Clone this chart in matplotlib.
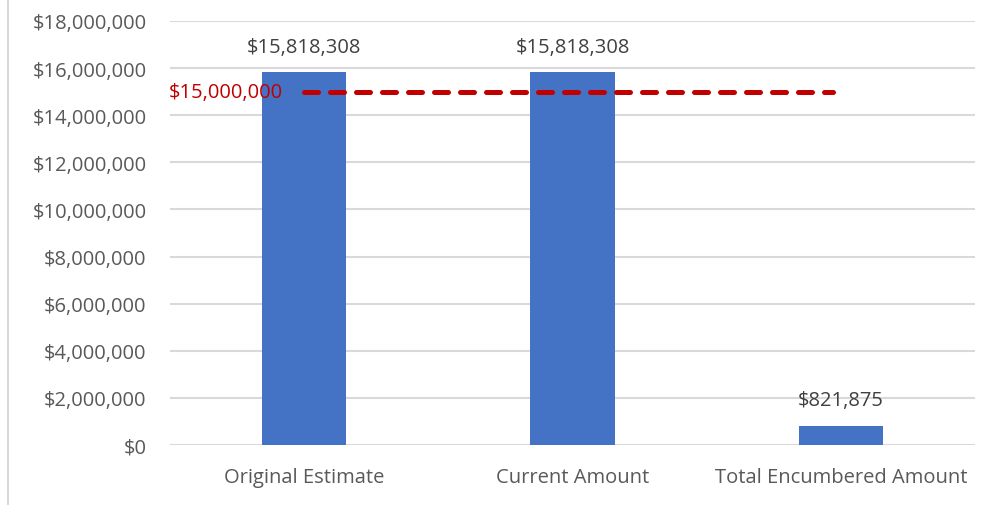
import matplotlib
matplotlib.use("Agg")
import matplotlib.pyplot as plt
from matplotlib.lines import Line2D
from matplotlib.ticker import FuncFormatter

categories = ["Original Estimate", "Current Amount", "Total Encumbered Amount"]
amounts = [15818308, 15818308, 821875]
threshold = 15000000
threshold_span = [0, 1.97]

plt.rcParams['font.family'] = ['Open Sans', 'DejaVu Sans']

txt = '#595959'
fs = 14.5
fig = plt.figure(figsize=(9.95, 5.06), dpi=100)
ax = fig.add_axes([170 / 995, 1 - 446 / 506, 805 / 995, 424 / 506])

x = list(range(len(categories)))
bars = ax.bar(x, amounts, width=0.315, color='#4472C4', zorder=3)
for xi, v in zip(x, amounts):
    ax.annotate(f"${v:,.0f}", (xi, v), xytext=(0, 11), textcoords='offset points',
                ha='center', va='bottom', fontsize=fs, color='#404040')

ax.plot(threshold_span, [threshold, threshold], color='#C00000', lw=3.6,
        dashes=(2.8, 2.4), dash_capstyle='round', zorder=4)
ax.annotate(f"${threshold:,.0f}", (threshold_span[0], threshold), xytext=(-15, 0),
            textcoords='offset points', ha='right', va='center',
            fontsize=fs, color='#C00000', zorder=5)

ax.set_xlim(-0.5, 2.5)
ax.set_ylim(0, 18000000)
ax.set_yticks(range(0, 18000001, 2000000))
ax.yaxis.set_major_formatter(FuncFormatter(lambda v, p: f"${v:,.0f}"))
ax.set_xticks(x)
ax.set_xticklabels(categories)
ax.grid(axis='y', color='#d9d9d9', lw=1.5, zorder=0)
for s in ax.spines.values():
    s.set_visible(False)
ax.tick_params(length=0, labelsize=fs, labelcolor=txt)
ax.tick_params(axis='x', pad=16)
ax.tick_params(axis='y', pad=17)

fig.add_artist(Line2D([8 / 995, 8 / 995], [0, 1], color='#d9d9d9', lw=1.5,
                      transform=fig.transFigure))

fig.savefig("out.png", dpi=100)
